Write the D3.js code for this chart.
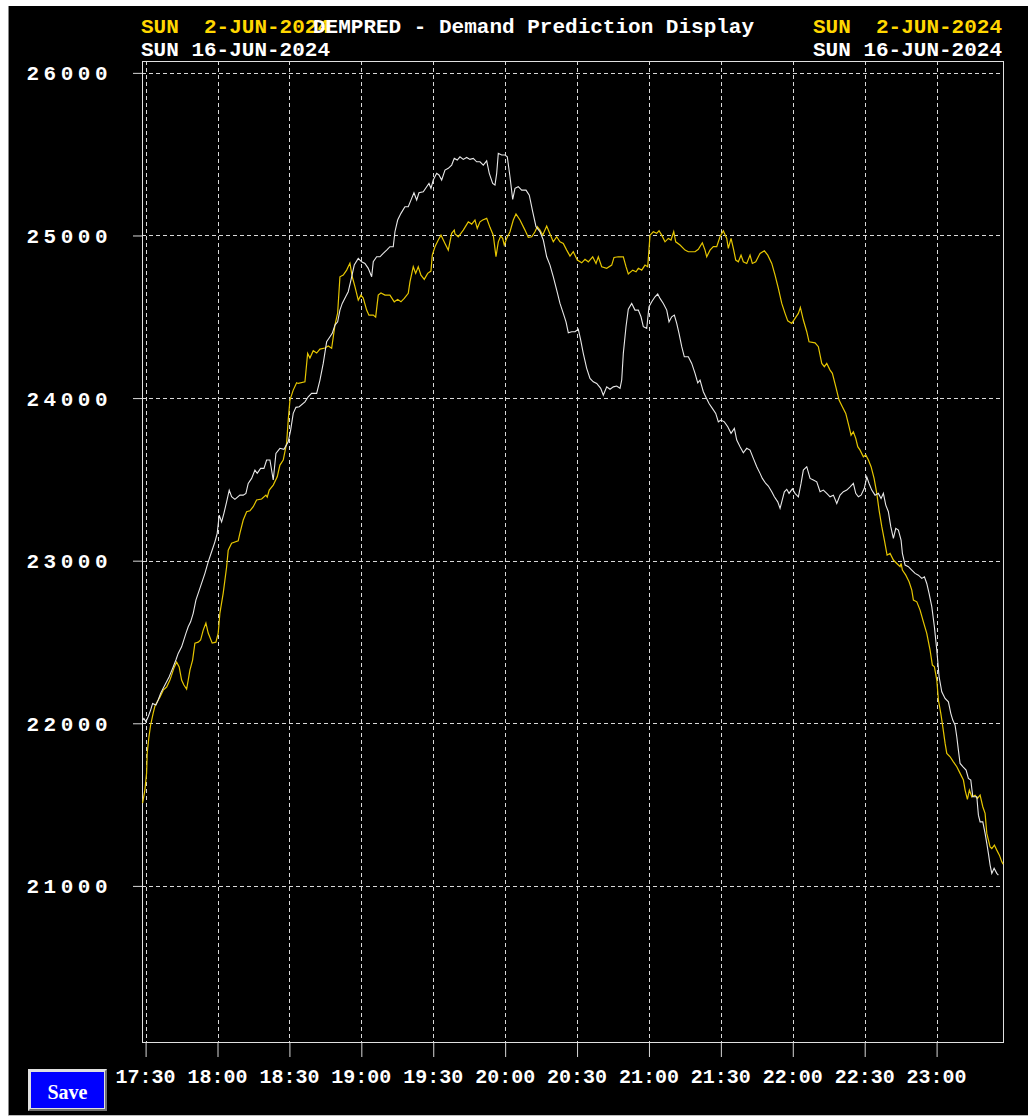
<!DOCTYPE html>
<html><head><meta charset="utf-8">
<script src="https://cdn.jsdelivr.net/npm/d3@7"></script>
<style>
html,body{margin:0;padding:0;background:#fff;}
svg{display:block;}
</style></head>
<body>
<svg id="c" width="1028" height="1118"></svg>
<script>
// ---- data (minutes after 17:30, MW) ----
const xTickMinutes = [0,30,60,90,120,150,180,210,240,270,300,330];
const xTickLabels = ["17:30","18:00","18:30","19:00","19:30","20:00","20:30","21:00","21:30","22:00","22:30","23:00"];
const yTickValues = [21000,22000,23000,24000,25000,26000];
const headerLeft = ["SUN\u00a0\u00a02-JUN-2024","SUN 16-JUN-2024"];
const titleText = "DEMPRED - Demand Prediction Display";

const jun02Min = [-1.25,-0.3,0.42,0.67,1.38,2.09,3.17,3.9,5.26,5.97,7.34,8.76,10.14,10.85,11.81,12.94,14.02,15.02,15.98,17.11,17.78,18.49,19.61,20.57,21.95,22.95,24.04,25.16,26.12,27.79,29.34,30.3,31.0,32.38,33.8,34.47,35.89,38.64,39.35,40.73,42.15,43.53,44.9,46.32,48.41,50.2,50.74,51.58,53.25,54.92,56.04,57.42,58.84,59.51,60.22,61.59,63.01,63.68,66.48,67.6,68.56,69.94,71.36,72.74,74.82,76.2,77.62,79.0,80.12,81.08,82.46,83.88,85.25,86.21,87.34,88.72,89.84,90.8,92.22,93.18,94.98,95.98,97.06,98.19,99.86,101.94,103.74,105.16,106.53,107.91,109.58,110.29,111.67,112.67,113.75,114.88,116.26,117.68,119.05,119.6,120.72,122.1,123.23,124.9,126.27,127.69,128.78,129.07,130.45,132.53,134.62,136.04,137.41,138.37,139.5,140.63,142.3,143.67,145.05,146.18,147.14,148.14,148.97,149.64,150.64,152.02,153.4,154.52,156.19,158.28,159.66,161.08,162.45,163.41,164.54,165.66,167.33,168.71,170.09,171.51,172.88,174.26,175.68,177.06,178.43,180.1,181.94,183.31,184.69,186.53,187.91,188.87,190.28,192.37,194.46,195.42,197.21,199.3,200.42,201.38,203.22,204.6,205.56,206.98,208.35,209.48,210.44,211.82,213.24,214.2,215.32,216.7,218.08,219.2,220.33,221.16,222.96,225.04,226.42,229.22,230.59,232.26,233.39,234.1,235.47,236.85,238.27,239.64,241.02,242.44,243.11,244.24,245.2,246.2,247.29,248.41,249.37,250.79,252.17,253.13,254.55,256.34,258.14,259.56,261.23,262.6,263.98,265.4,266.77,267.9,269.57,270.95,272.33,273.16,274.41,275.83,276.79,279.29,280.67,282.09,283.17,284.17,285.55,286.51,287.93,289.3,290.68,292.1,293.48,294.31,295.27,296.27,297.11,298.07,299.45,300.45,301.54,302.66,303.92,305.04,306.0,307.13,308.21,309.34,310.59,311.97,313.39,314.77,315.19,315.73,317.15,318.52,319.65,320.32,321.74,323.11,324.49,325.9,327.28,328.24,329.08,330.08,330.75,331.75,332.59,333.55,334.25,335.63,337.01,338.43,339.81,341.18,341.89,342.85,343.68,344.68,346.06,347.02,348.15,349.27,350.23,350.94,352.32,353.03,354.11,355.11,356.2,357.2,357.74];
const jun02Val = [21509,21589,21694,21817,21915,21989,22063,22106,22143,22161,22204,22223,22266,22296,22340,22376,22346,22266,22235,22210,22266,22327,22389,22493,22499,22512,22573,22616,22555,22493,22499,22555,22678,22801,22961,23065,23108,23122,23170,23250,23301,23307,23332,23373,23379,23403,23391,23434,23465,23516,23588,23619,23723,23865,23988,24049,24094,24090,24100,24275,24246,24291,24277,24301,24308,24320,24306,24449,24523,24746,24756,24787,24830,24746,24685,24603,24633,24615,24541,24510,24510,24498,24633,24646,24633,24633,24592,24607,24592,24613,24644,24715,24808,24767,24808,24756,24730,24767,24781,24879,24931,24972,25002,24951,24910,25013,25033,25009,24992,25033,25084,25070,25095,25044,25084,25095,25105,25050,25002,24869,24961,24996,24982,24941,24982,25023,25095,25132,25095,25033,24988,24992,25023,25054,25033,25002,25058,25009,24961,24992,24961,24951,24910,24873,24900,24849,24832,24853,24838,24869,24828,24869,24808,24798,24818,24865,24869,24869,24808,24763,24787,24777,24798,24787,24818,24808,25002,25023,25013,25029,25002,24961,24982,24972,25023,24961,24941,24910,24900,24900,24915,24955,24910,24869,24910,24931,24931,24992,25029,24982,24921,24982,24921,24849,24838,24879,24838,24828,24879,24828,24838,24890,24906,24879,24828,24756,24675,24582,24521,24475,24459,24490,24521,24558,24480,24408,24346,24340,24316,24213,24193,24213,24172,24152,24070,23988,23947,23906,23824,23772,23793,23752,23701,23680,23639,23650,23619,23578,23506,23414,23311,23209,23127,23034,23045,23004,22983,22963,22983,22942,22911,22870,22819,22758,22747,22696,22624,22553,22450,22358,22348,22266,22143,22061,21978,21876,21815,21794,21763,21733,21692,21651,21589,21532,21589,21548,21558,21538,21558,21487,21446,21323,21240,21230,21251,21220,21189,21148,21134];

const jun16Min = [-1.25,-0.71,0.13,1.08,2.09,2.92,4.3,5.26,6.26,7.34,8.76,9.85,11.27,12.64,13.6,15.02,15.69,16.82,17.78,18.78,19.86,20.99,24.75,26.12,27.54,28.92,29.88,30.71,31.71,32.67,33.8,34.89,35.89,37.26,39.35,40.73,41.85,42.81,44.23,45.61,46.57,47.99,49.37,50.49,51.87,53.25,54.37,56.04,57.71,59.51,60.51,61.59,62.72,64.1,66.48,67.85,69.27,71.36,72.74,74.11,75.53,76.91,77.87,79.0,80.12,81.08,82.04,83.46,84.54,85.67,87.05,88.72,90.13,91.51,92.89,94.31,94.98,96.39,97.77,99.15,100.57,101.94,103.32,104.03,105.16,106.53,108.2,109.58,111.0,111.96,113.09,114.05,115.84,117.26,118.22,119.05,120.01,121.43,122.39,123.52,124.9,126.27,127.69,128.78,130.03,131.15,132.53,133.95,135.33,136.7,138.12,139.5,140.88,142.3,143.38,144.8,145.76,146.47,147.14,148.56,149.94,150.89,152.02,153.15,154.11,155.48,156.9,158.7,160.07,161.49,162.87,164.54,165.92,167.33,168.71,170.09,171.51,172.88,174.26,175.39,176.35,177.77,179.14,180.52,181.52,182.6,184.02,185.4,186.78,188.2,189.87,190.95,192.37,193.75,195.13,196.54,197.92,198.63,199.3,200.42,201.38,202.8,204.18,205.56,206.68,207.64,209.06,210.02,211.15,212.52,213.65,214.61,215.99,217.41,218.37,219.49,220.58,221.58,222.54,223.67,224.75,226.42,227.84,229.22,230.35,231.31,232.68,233.68,235.06,236.44,237.86,238.94,240.07,241.45,242.87,244.24,245.62,246.62,248.0,249.37,250.79,252.17,253.55,254.97,256.34,257.3,258.72,259.8,261.23,262.31,263.73,264.69,265.4,266.48,267.48,268.44,269.82,270.95,272.33,273.45,274.41,275.83,277.21,278.58,280.0,281.38,282.76,284.17,285.55,286.93,288.35,289.73,291.1,292.52,293.9,295.27,296.27,297.36,298.48,299.86,300.86,301.82,302.95,304.33,305.71,306.83,307.79,308.8,309.88,310.88,311.97,312.97,314.05,315.17,315.73,316.85,318.23,319.65,321.02,322.4,323.82,324.91,325.9,326.86,327.99,329.07,330.08,331.04,332.16,333.54,334.92,335.92,336.75,337.71,338.42,339.09,339.8,340.93,342.3,343.26,344.26,345.1,346.77,347.44,348.15,349.27,350.23,350.94,351.61,352.32,353.03,353.99,355.11,355.78];
const jun16Val = [22020,22030,22009,22040,22081,22122,22112,22143,22184,22215,22255,22286,22338,22389,22430,22470,22501,22553,22594,22624,22676,22758,22922,22993,23055,23116,23168,23280,23239,23291,23362,23434,23393,23377,23403,23403,23414,23475,23506,23557,23537,23568,23568,23619,23619,23496,23660,23691,23685,23731,23803,23906,23943,23947,23977,24008,24029,24029,24111,24213,24346,24377,24398,24449,24469,24541,24582,24623,24654,24726,24818,24859,24838,24828,24798,24746,24838,24869,24869,24890,24910,24931,24931,25023,25095,25136,25177,25177,25228,25263,25218,25263,25269,25300,25320,25290,25341,25382,25372,25341,25402,25413,25433,25474,25464,25484,25468,25480,25468,25474,25453,25453,25433,25459,25382,25320,25310,25382,25505,25495,25495,25484,25361,25222,25290,25300,25279,25279,25248,25146,25054,25023,24972,24869,24818,24746,24664,24582,24521,24469,24402,24408,24408,24423,24357,24275,24183,24121,24100,24090,24060,24018,24069,24054,24069,24074,24060,24111,24275,24439,24546,24582,24541,24541,24500,24439,24429,24562,24592,24623,24640,24613,24582,24541,24469,24500,24510,24459,24398,24316,24254,24254,24213,24152,24094,24111,24039,24008,23967,23937,23906,23854,23865,23854,23824,23783,23814,23742,23701,23664,23691,23680,23629,23578,23537,23506,23475,23459,23424,23393,23362,23322,23362,23424,23439,23414,23442,23414,23393,23475,23557,23578,23506,23496,23485,23424,23434,23414,23393,23403,23352,23403,23424,23434,23454,23475,23414,23393,23403,23445,23516,23475,23434,23403,23414,23383,23414,23342,23301,23209,23137,23199,23188,23127,23045,22973,22963,22942,22922,22911,22891,22901,22860,22799,22717,22594,22450,22286,22194,22153,22132,22061,22020,21989,21917,21835,21753,21733,21712,21661,21651,21548,21548,21435,21394,21394,21323,21261,21200,21128,21077,21108,21077,21066];

// ---- drawing ----
const svg = d3.select("#c");
const L = 142, R = 1003, T = 61, B = 1042;
const x = d3.scaleLinear().domain([-1.5, 357.7]).range([L, R]);
const y = d3.scaleLinear().domain([20040, 26073]).range([B, T]);
const mono = "'Liberation Mono','Courier New',monospace";

svg.append("rect").attr("x",8).attr("y",6).attr("width",1020).attr("height",1109).attr("fill","#000");
svg.append("line").attr("x1",8.5).attr("x2",8.5).attr("y1",6).attr("y2",1115).attr("stroke","#888");
svg.append("line").attr("x1",8).attr("x2",1028).attr("y1",1115.5).attr("y2",1115.5).attr("stroke","#bbb");

// gridlines
const grid = svg.append("g").attr("stroke","#d8d8d8").attr("stroke-width",1).attr("stroke-dasharray","4,3");
grid.selectAll("line.h").data(yTickValues).join("line")
  .attr("x1",L).attr("x2",R).attr("y1",d=>Math.round(y(d))+0.5).attr("y2",d=>Math.round(y(d))+0.5);
grid.selectAll("line.v").data(xTickMinutes).join("line")
  .attr("y1",T).attr("y2",B).attr("x1",d=>Math.round(x(d))+0.5).attr("x2",d=>Math.round(x(d))+0.5);

// axes ticks (solid)
const yAx = svg.append("g").attr("transform",`translate(${L},0)`)
  .call(d3.axisLeft(y).tickValues(yTickValues).tickSize(9).tickFormat(""));
yAx.select(".domain").remove();
yAx.selectAll("line").attr("stroke","#d8d8d8");
const xAx = svg.append("g").attr("transform",`translate(0,${B})`)
  .call(d3.axisBottom(x).tickValues(xTickMinutes).tickSize(15).tickFormat(""));
xAx.select(".domain").remove();
xAx.selectAll("line").attr("stroke","#d8d8d8");

// frame
svg.append("rect").attr("x",L+0.5).attr("y",T+0.5).attr("width",R-L).attr("height",B-T)
  .attr("fill","none").attr("stroke","#e0e0e0");

// tick labels
svg.append("g").selectAll("text").data(yTickValues).join("text")
  .attr("x",112).attr("y",d=>y(d)+7.5).attr("text-anchor","end")
  .attr("fill","#fff").attr("font-family",mono).attr("font-weight","bold")
  .attr("font-size",21).attr("letter-spacing",4.5).text(d=>d);
svg.append("g").selectAll("text").data(xTickMinutes).join("text")
  .attr("x",d=>x(d)).attr("y",1083).attr("text-anchor","middle")
  .attr("fill","#fff").attr("font-family",mono).attr("font-weight","bold")
  .attr("font-size",20).text((d,i)=>xTickLabels[i]);

// lines
const line = d3.line().x(d=>x(d[0])).y(d=>y(d[1]));
svg.append("path").datum(jun02Min.map((m,i)=>[m,jun02Val[i]]))
  .attr("d",line).attr("fill","none").attr("stroke","#e6c600").attr("stroke-width",1.2);
svg.append("path").datum(jun16Min.map((m,i)=>[m,jun16Val[i]]))
  .attr("d",line).attr("fill","none").attr("stroke","#e8e8e8").attr("stroke-width",1.1);

// header
const hdr = svg.append("g").attr("font-family",mono).attr("font-weight","bold").attr("font-size",21);
hdr.append("text").attr("x",141).attr("y",33).attr("fill","#ffd700").text(headerLeft[0]);
hdr.append("text").attr("x",141).attr("y",56).attr("fill","#fff").text(headerLeft[1]);
hdr.append("text").attr("x",313).attr("y",33).attr("fill","#fff").text(titleText);
hdr.append("text").attr("x",1002).attr("y",33).attr("text-anchor","end").attr("fill","#ffd700").text(headerLeft[0]);
hdr.append("text").attr("x",1002).attr("y",56).attr("text-anchor","end").attr("fill","#fff").text(headerLeft[1]);

// Save button
const btn = svg.append("g");
btn.append("rect").attr("x",28).attr("y",1069).attr("width",79).attr("height",42).attr("fill","#e0e0e0");
btn.append("path").attr("d","M107,1069 L107,1111 L28,1111 L30,1109 L105,1109 L105,1071 Z").attr("fill","#707070");
btn.append("rect").attr("x",31).attr("y",1072).attr("width",73).attr("height",36).attr("fill","#0000ff");
btn.append("text").attr("x",67.5).attr("y",1099).attr("text-anchor","middle").attr("fill","#fff")
  .attr("font-family","'Liberation Serif','Times New Roman',serif").attr("font-weight","bold").attr("font-size",20).text("Save");
</script>
</body></html>
